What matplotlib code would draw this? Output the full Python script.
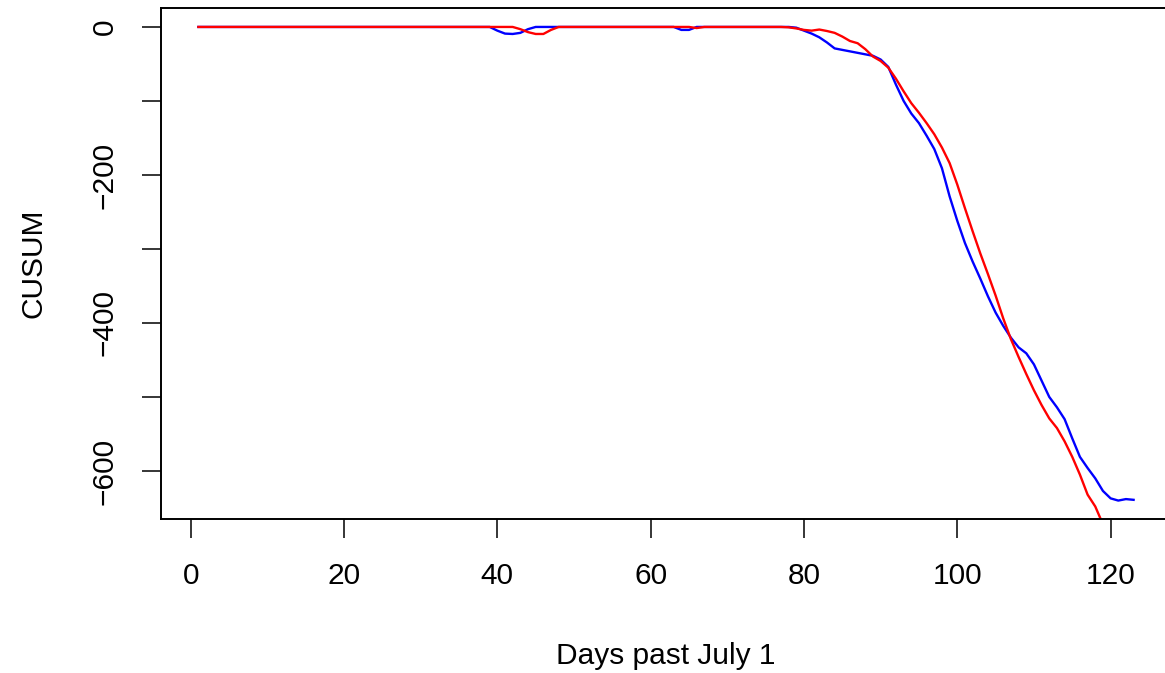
import numpy as np
import matplotlib.pyplot as plt

plt.rcParams['font.family'] = ['Liberation Sans', 'DejaVu Sans']

# Days past July 1
days = list(range(1, 124))

# Blue CUSUM series (days 1..123)
blue_cusum = (
    [0] * 38
    + [0, -5, -9, -9.5, -8, -3, 0]            # days 39-45
    + [0] * 18                                # days 46-63
    + [-4, -4, 0]                             # days 64-66
    + [0] * 12                                # days 67-78
    + [-1, -5, -9, -14, -21, -29, -31, -33, -35, -37,
       -39, -44, -54, -78, -100, -117, -130, -147, -165, -191,
       -229, -262, -292, -317, -340, -364, -386, -404, -420, -433,
       -441, -456, -478, -500, -514, -530, -556, -581, -596, -610,
       -627, -637, -640, -638, -639]           # days 79-123
)

# Red CUSUM series (days 1..123)
red_cusum = (
    [0] * 41
    + [0, -3, -7, -9.5, -9.5, -4, 0]           # days 42-48
    + [0] * 17                                # days 49-65
    + [-1.5]                                  # day 66
    + [0] * 11                                # days 67-77
    + [-0.5, -2, -4, -5, -3.5, -5.5, -8, -13, -19, -22,
       -30, -40, -46, -55, -70, -87, -103, -116, -130, -145,
       -163, -184, -213, -245, -276, -306, -334, -363, -394, -422,
       -446, -469, -491, -511, -529, -542, -560, -581, -605, -632,
       -648, -672, -695, -718, -741, -764]     # days 78-123
)

x_ticks = [0, 20, 40, 60, 80, 100, 120]
y_ticks = [0, -100, -200, -300, -400, -500, -600]
y_tick_labels = ['0', '', '\u2212200', '', '\u2212400', '', '\u2212600']

fig = plt.figure(figsize=(11.65, 6.73), dpi=100)
# plot region runs past the right edge of the picture, as in the reference
ax = fig.add_axes([161 / 1165, 154.3 / 673, 1010 / 1165, 510.7 / 673])

ax.plot(days, blue_cusum, color='#0000FF', linewidth=1.7)
ax.plot(days, red_cusum, color='#FF0000', linewidth=1.7)

ax.set_xlim(-3.88, 127.88)
ax.set_ylim(-664.5, 25.6)

ax.set_xticks(x_ticks)
ax.set_xticklabels([str(t) for t in x_ticks])
ax.set_yticks(y_ticks)
ax.set_yticklabels(y_tick_labels, rotation=90, va='center')

ax.tick_params(axis='both', direction='out', length=13.5, width=1.1,
               labelsize=21.5, colors='black')
ax.tick_params(axis='x', pad=18)
ax.tick_params(axis='y', pad=17)

for side in ['left', 'bottom', 'top']:
    ax.spines[side].set_linewidth(1.4)
    ax.spines[side].set_color('black')
ax.spines['right'].set_visible(False)

ax.set_xlabel('Days past July 1', fontsize=21.5, labelpad=37)
ax.set_ylabel('CUSUM', fontsize=21.5, labelpad=31)

fig.savefig('out.png', dpi=100)
